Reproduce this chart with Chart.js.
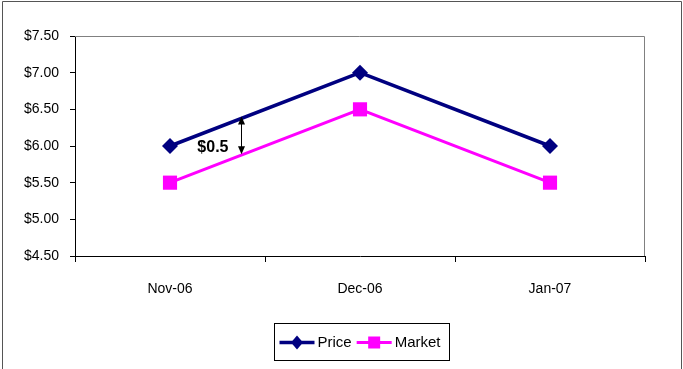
<!DOCTYPE html>
<html>
<head>
<meta charset="utf-8">
<script src="https://cdn.jsdelivr.net/npm/chart.js@4/dist/chart.umd.min.js"></script>
<style>
  html, body { margin: 0; padding: 0; background: #fff; }
  #wrap { position: relative; width: 683px; height: 369px; }
</style>
</head>
<body>
<div id="wrap"><canvas id="chart" width="683" height="369"></canvas></div>
<script>
const months = ['Nov-06', 'Dec-06', 'Jan-07'];
const priceValues = [6.0, 7.0, 6.0];
const marketValues = [5.5, 6.5, 5.5];
const yTicks = [4.5, 5.0, 5.5, 6.0, 6.5, 7.0, 7.5];

// where the spread arrow sits between the first two months
const gapAt = 0.374;

const FONT = '"Liberation Sans", Arial, sans-serif';

// gray frame on top/right of the plot, outer frame, spread arrow, legend box
const extras = {
  id: 'extras',
  afterDraw(chart) {
    const ctx = chart.ctx;
    const a = chart.chartArea;
    const xs = chart.scales.x, ys = chart.scales.y;
    ctx.save();

    ctx.strokeStyle = '#808080';
    ctx.lineWidth = 1;
    ctx.beginPath();
    ctx.moveTo(a.left, a.top + 0.5);
    ctx.lineTo(a.right - 0.5, a.top + 0.5);
    ctx.lineTo(a.right - 0.5, a.bottom);
    ctx.stroke();

    ctx.strokeStyle = '#555';
    ctx.beginPath();
    ctx.moveTo(2.5, chart.height + 2);
    ctx.lineTo(2.5, 1.5);
    ctx.lineTo(681.5, 1.5);
    ctx.lineTo(681.5, chart.height + 2);
    ctx.stroke();

    // spread arrow
    const p0 = priceValues[0], p1 = priceValues[1];
    const m0 = marketValues[0], m1 = marketValues[1];
    const pv = p0 + (p1 - p0) * gapAt;
    const mv = m0 + (m1 - m0) * gapAt;
    const ax = Math.round(xs.getPixelForValue(gapAt)) + 0.5;
    const yTop = ys.getPixelForValue(pv) - 2;
    const yBot = ys.getPixelForValue(mv) - 1;
    ctx.strokeStyle = '#000';
    ctx.fillStyle = '#000';
    ctx.lineWidth = 1;
    ctx.beginPath();
    ctx.moveTo(ax, yTop + 4);
    ctx.lineTo(ax, yBot - 4);
    ctx.stroke();
    ctx.beginPath();
    ctx.moveTo(ax, yTop); ctx.lineTo(ax - 3.5, yTop + 8); ctx.lineTo(ax + 3.5, yTop + 8); ctx.closePath();
    ctx.fill();
    ctx.beginPath();
    ctx.moveTo(ax, yBot); ctx.lineTo(ax - 3.5, yBot - 8); ctx.lineTo(ax + 3.5, yBot - 8); ctx.closePath();
    ctx.fill();

    ctx.font = 'bold 16px ' + FONT;
    ctx.textAlign = 'right';
    ctx.textBaseline = 'middle';
    ctx.fillText('$' + (p0 - m0), ax - 13, yBot - 7);

    // legend
    const bx = 274.5, by = 323.5, bw = 175, bh = 37;
    ctx.strokeStyle = '#000';
    ctx.lineWidth = 1;
    ctx.strokeRect(bx, by, bw, bh);
    ctx.font = '15px ' + FONT;
    ctx.textAlign = 'left';
    let x = bx + 5;
    const ly = by + bh / 2 + 0.5;
    chart.data.datasets.forEach(ds => {
      ctx.strokeStyle = ds.borderColor;
      ctx.lineWidth = ds.borderWidth;
      ctx.beginPath();
      ctx.moveTo(x, ly);
      ctx.lineTo(x + 35, ly);
      ctx.stroke();
      ctx.fillStyle = ds.pointBackgroundColor;
      const cx = x + 17.5;
      if (ds.pointStyle === 'rectRot') {
        ctx.beginPath();
        ctx.moveTo(cx, ly - 7); ctx.lineTo(cx + 6, ly); ctx.lineTo(cx, ly + 7); ctx.lineTo(cx - 6, ly); ctx.closePath();
        ctx.fill();
      } else {
        ctx.fillRect(cx - 6, ly - 6, 12, 12);
      }
      ctx.fillStyle = '#000';
      ctx.fillText(ds.label, x + 38, ly);
      x += 38 + ctx.measureText(ds.label).width + 5;
    });

    ctx.restore();
  }
};

new Chart(document.getElementById('chart'), {
  type: 'line',
  data: {
    labels: months,
    datasets: [
      {
        label: 'Price',
        data: priceValues,
        borderColor: '#000080',
        backgroundColor: '#000080',
        pointBackgroundColor: '#000080',
        pointBorderColor: '#000080',
        borderWidth: 3.5,
        pointStyle: 'rectRot',
        pointRadius: 8,
        pointBorderWidth: 0,
        tension: 0
      },
      {
        label: 'Market',
        data: marketValues,
        borderColor: '#ff00ff',
        backgroundColor: '#ff00ff',
        pointBackgroundColor: '#ff00ff',
        pointBorderColor: '#ff00ff',
        borderWidth: 3,
        pointStyle: 'rect',
        pointRadius: 10,
        pointBorderWidth: 0,
        tension: 0
      }
    ]
  },
  options: {
    responsive: false,
    animation: false,
    layout: { padding: { top: 36, right: 38, bottom: 0, left: 0 } },
    plugins: {
      legend: { display: false },
      tooltip: { enabled: false }
    },
    scales: {
      x: {
        offset: true,
        grid: { offset: true, drawOnChartArea: false, color: '#000', tickLength: 6 },
        border: { color: '#000', width: 1 },
        ticks: { color: '#000', font: { family: FONT, size: 14 }, padding: 19 },
        afterFit(scale) { scale.height = 113; }
      },
      y: {
        min: 4.5,
        max: 7.5,
        afterBuildTicks(scale) { scale.ticks = yTicks.map(v => ({ value: v })); },
        grid: { drawOnChartArea: false, color: '#000', tickLength: 5 },
        border: { color: '#000', width: 1 },
        ticks: {
          color: '#000',
          font: { family: FONT, size: 14 },
          padding: 11,
          callback: v => '$' + Number(v).toFixed(2)
        },
        afterFit(scale) { scale.width = 75; }
      }
    }
  },
  plugins: [extras]
});
</script>
</body>
</html>
